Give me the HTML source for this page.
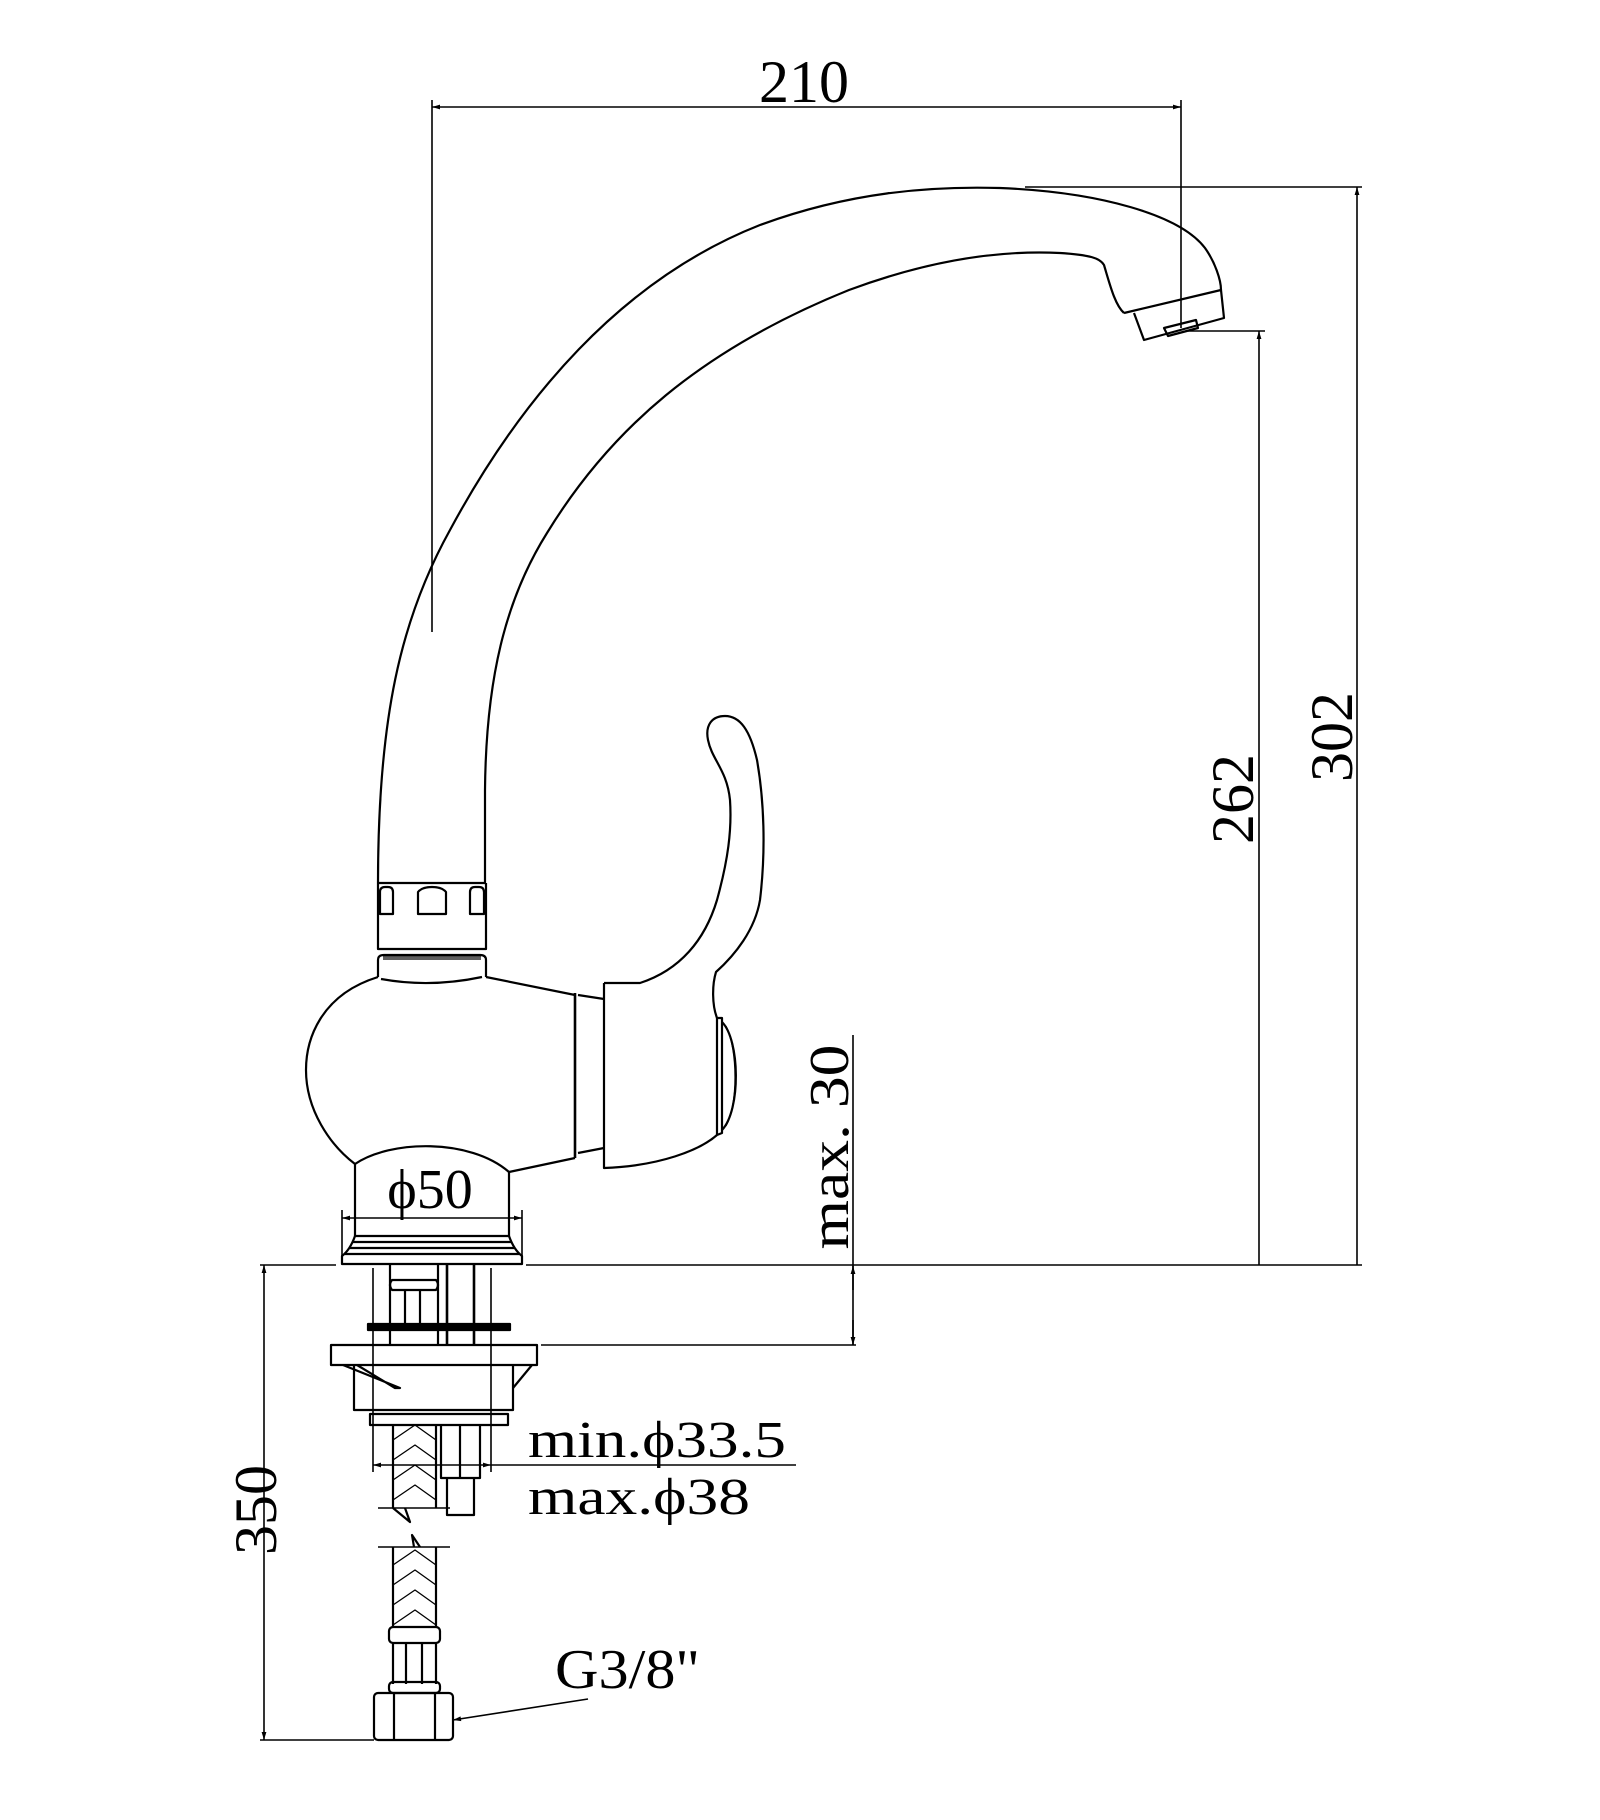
<!DOCTYPE html>
<html><head><meta charset="utf-8"><style>
html,body{margin:0;padding:0;background:#fff;}
svg{display:block;}
text{font-family:"Liberation Serif",serif;fill:#000;}
</style></head><body>
<svg width="1600" height="1820" viewBox="0 0 1600 1820" xmlns="http://www.w3.org/2000/svg">
<defs>
<marker id="a" viewBox="0 0 10 10" refX="10" refY="5" markerWidth="12" markerHeight="8" orient="auto-start-reverse" markerUnits="userSpaceOnUse"><path d="M0,2 L10,5 L0,8 z" fill="#000"/></marker>
</defs>
<g fill="none" stroke="#000" stroke-width="1.6">
<line x1="432" y1="107" x2="1181" y2="107" marker-start="url(#a)" marker-end="url(#a)"/>
<line x1="432" y1="100" x2="432" y2="632"/>
<line x1="1181" y1="100" x2="1181" y2="328"/>
<line x1="1025" y1="187" x2="1362" y2="187"/>
<line x1="1357" y1="187" x2="1357" y2="1265" marker-start="url(#a)"/>
<line x1="1188" y1="331" x2="1265" y2="331"/>
<line x1="1259" y1="331" x2="1259" y2="1265" marker-start="url(#a)"/>
<line x1="260" y1="1265" x2="336" y2="1265"/>
<line x1="526" y1="1265" x2="1362" y2="1265"/>
<line x1="853" y1="1035" x2="853" y2="1345"/>
<line x1="853" y1="1266" x2="853" y2="1290" marker-start="url(#a)"/>
<line x1="853" y1="1320" x2="853" y2="1345" marker-end="url(#a)"/>
<line x1="541" y1="1345" x2="856" y2="1345"/>
<line x1="264" y1="1265" x2="264" y2="1740" marker-start="url(#a)" marker-end="url(#a)"/>
<line x1="260" y1="1740" x2="374" y2="1740"/>
<line x1="373" y1="1268" x2="373" y2="1472"/>
<line x1="491" y1="1268" x2="491" y2="1472"/>
<line x1="373" y1="1465" x2="491" y2="1465" marker-start="url(#a)" marker-end="url(#a)"/>
<line x1="491" y1="1465" x2="796" y2="1465"/>
<line x1="342" y1="1210" x2="342" y2="1256"/>
<line x1="522" y1="1210" x2="522" y2="1256"/>
<line x1="342" y1="1218" x2="522" y2="1218" marker-start="url(#a)" marker-end="url(#a)"/>
<line x1="588" y1="1699" x2="453" y2="1720" marker-end="url(#a)"/>
</g>

<g fill="none" stroke="#000" stroke-width="2.2" stroke-linejoin="round">
<!-- spout outer -->
<path d="M378,883 C378,720 400,620 450,530 C520,400 620,280 760,225 C850,192 930,186 1000,188 C1100,192 1180,215 1205,248 C1215,262 1221,280 1221,290"/>
<!-- spout inner -->
<path d="M485,883 L485,790 C486,680 505,600 547,533 C610,430 700,350 849,290 C930,260 1000,250 1060,253 C1090,255 1100,258 1104,265 C1110,285 1115,305 1124,313"/>
<path d="M1221,290 L1124,313 M1221,290 L1224,318 L1144,340 L1134,313"/>
<path d="M1164,328 L1196,320 L1198,328 L1168,336 Z"/>
<path d="M378,883 L486,883 M378,883 L378,949 L486,949 L486,883"/>
<path d="M380,914 L380,892 Q380,887 385,887 L388,887 Q393,887 393,892 L393,914 Z"/>
<path d="M418,914 L418,892 Q422,887 432,887 Q442,887 446,892 L446,914 Z"/>
<path d="M470,914 L470,892 Q470,887 475,887 L479,887 Q484,887 484,892 L484,914 Z"/>
<path d="M378,977 L378,960 Q378,955 384,955 L480,955 Q486,955 486,960 L486,977"/>
<line x1="383" y1="957" x2="481" y2="957" stroke-width="1.2"/>
<line x1="383" y1="959" x2="481" y2="959" stroke-width="1.2"/>
<path d="M381,979 Q430,988 482,977"/>
<path d="M378,977 C320,995 306,1040 306,1070 C306,1110 330,1145 355,1164"/>
<path d="M355,1164 C390,1140 470,1138 509,1172"/>
<path d="M486,977 L575,995 M509,1172 L575,1158"/>
<line x1="575" y1="993" x2="575" y2="1158" stroke-width="2.6"/>
<path d="M578,995 L604,999 M578,1153 L604,1148"/>
<path d="M604,983 L604,1168 C660,1166 700,1150 717,1135"/>
<path d="M604,983 L640,983 C680,970 705,940 717,900 C728,860 732,830 730,800 C727,770 712,760 708,740 C705,725 712,716 725,716 C740,716 750,730 757,760 C764,800 766,850 760,900 C755,930 735,955 716,972 C712,985 712,1005 717,1018"/>
<path d="M717,1018 L717,1135 M717,1018 L722,1018 L722,1133 L717,1135"/>
<path d="M722,1022 C740,1040 741,1110 722,1130"/>
<path d="M726,1026 C738,1050 738,1105 726,1126" stroke-width="1.2"/>
<path d="M355,1164 L355,1236 M509,1172 L509,1236"/>
<path d="M355,1236 L509,1236 M352,1242 L512,1242 M349,1248 L515,1248 M345,1254 L519,1254"/>
<path d="M355,1236 Q350,1250 342,1256 L342,1264 L522,1264 L522,1256 Q514,1250 509,1236"/>
<path d="M390,1265 L390,1345 M438,1265 L438,1345"/>
<path d="M392,1280 Q388,1285 392,1290 L436,1290 Q440,1285 436,1280 Z"/>
<path d="M405,1290 L405,1323 M420,1290 L420,1323"/>
<path d="M447,1265 L447,1345 M474,1265 L474,1345" stroke-width="2.6"/>
<rect x="368" y="1324" width="142" height="6" fill="#000"/>
<rect x="331" y="1345" width="206" height="20"/>
<path d="M354,1365 L354,1410 L513,1410 L513,1365"/>
<path d="M343,1365 L400,1388 L395,1388 L357,1365"/>
<path d="M532,1365 L513,1388"/>
<rect x="370" y="1414" width="138" height="11"/>
<path d="M393,1425 L393,1508 M436,1425 L436,1508"/>
<path d="M378,1508 L450,1508 M378,1547 L450,1547" stroke-width="1.4"/>
<path d="M393,1508 L410,1522 L405,1508 M420,1547 L412,1535 L414,1547"/>
<g stroke-width="1.3">
<path d="M393,1440 L415,1425 L436,1440 M393,1460 L415,1445 L436,1460 M393,1480 L415,1465 L436,1480 M393,1500 L415,1485 L436,1500"/>
<path d="M393,1565 L415,1550 L436,1565 M393,1585 L415,1570 L436,1585 M393,1605 L415,1590 L436,1605 M393,1625 L415,1610 L436,1625"/>
</g>
<path d="M441,1425 L441,1478 L480,1478 L480,1425 M460,1425 L460,1478"/>
<path d="M447,1478 L447,1515 L474,1515 L474,1478"/>
<path d="M393,1547 L393,1627 M436,1547 L436,1627"/>
<rect x="389" y="1627" width="51" height="16" rx="4"/>
<path d="M393,1643 L393,1684 M406,1643 L406,1684 M422,1643 L422,1684 M436,1643 L436,1684"/>
<rect x="389" y="1682" width="51" height="11" rx="4"/>
<rect x="374" y="1693" width="79" height="47" rx="4"/>
<path d="M394,1693 L394,1740 M435,1693 L435,1740"/>
</g>

<text x="804" y="102" font-size="60" text-anchor="middle">210</text>
<text transform="translate(1352,737) rotate(-90)" font-size="60" text-anchor="middle">302</text>
<text transform="translate(1253,799) rotate(-90)" font-size="60" text-anchor="middle">262</text>
<text transform="translate(848,1147) rotate(-90)" font-size="56" text-anchor="middle" textLength="205" lengthAdjust="spacingAndGlyphs">max. 30</text>
<text transform="translate(276,1510) rotate(-90)" font-size="60" text-anchor="middle">350</text>
<text x="430" y="1208" font-size="56" text-anchor="middle">ϕ50</text>
<text x="528" y="1457" font-size="52" textLength="258" lengthAdjust="spacingAndGlyphs">min.ϕ33.5</text>
<text x="528" y="1514" font-size="52" textLength="222" lengthAdjust="spacingAndGlyphs">max.ϕ38</text>
<text x="555" y="1688" font-size="56" textLength="145" lengthAdjust="spacingAndGlyphs">G3/8"</text>
</svg>
</body></html>
